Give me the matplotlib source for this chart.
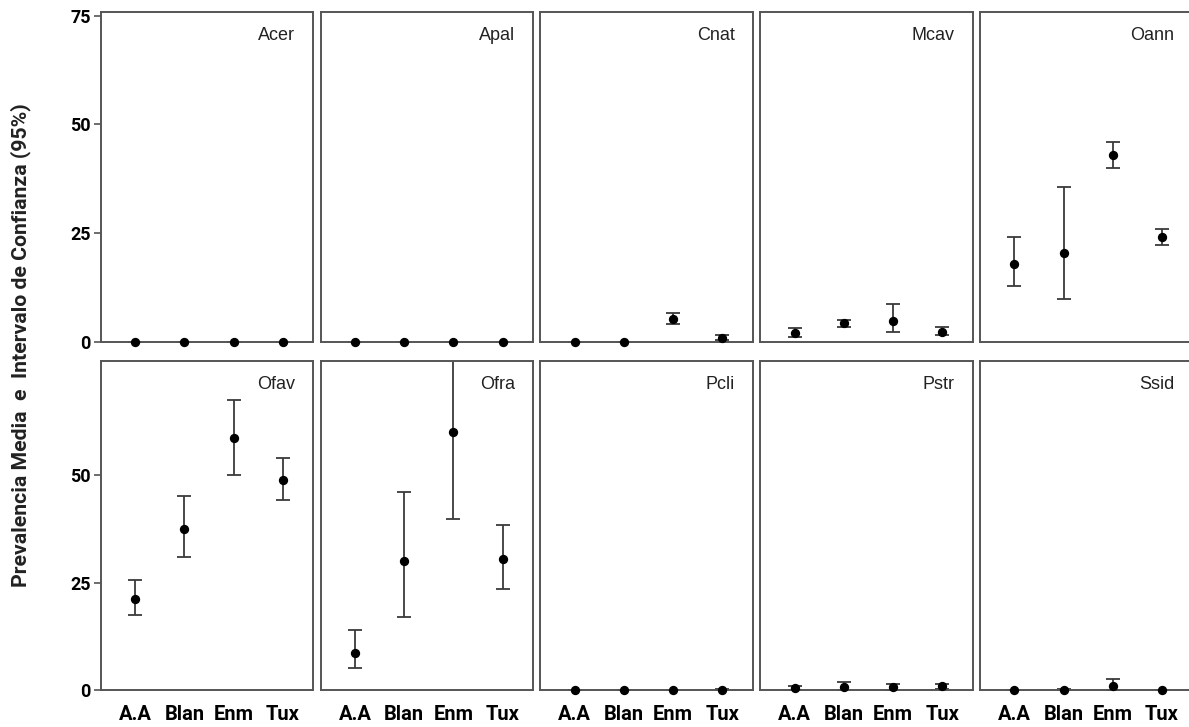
import matplotlib
matplotlib.use("Agg")
import matplotlib.pyplot as plt
import numpy as np

# Sites (x categories) and species panels
sites = ["A.A", "Blan", "Enm", "Tux"]
species = ["Acer", "Apal", "Cnat", "Mcav", "Oann",
           "Ofav", "Ofra", "Pcli", "Pstr", "Ssid"]

# Mean prevalence per site for each species
mean = {
    "Acer": [0.0, 0.0, 0.0, 0.0],
    "Apal": [0.0, 0.0, 0.0, 0.0],
    "Cnat": [0.0, 0.0, 5.2, 0.9],
    "Mcav": [1.9, 4.3, 4.8, 2.2],
    "Oann": [17.9, 20.5, 43.0, 24.0],
    "Ofav": [21.2, 37.5, 58.6, 48.8],
    "Ofra": [8.7, 30.1, 59.9, 30.4],
    "Pcli": [0.0, 0.0, 0.0, 0.1],
    "Pstr": [0.4, 0.8, 0.6, 0.9],
    "Ssid": [0.0, 0.1, 0.9, 0.0],
}
# Lower / upper 95% confidence limits
lower = {
    "Acer": [0.0, 0.0, 0.0, 0.0],
    "Apal": [0.0, 0.0, 0.0, 0.0],
    "Cnat": [0.0, 0.0, 4.1, 0.3],
    "Mcav": [1.0, 3.3, 2.2, 1.5],
    "Oann": [12.8, 9.8, 40.0, 22.2],
    "Ofav": [17.4, 30.9, 49.9, 44.1],
    "Ofra": [5.2, 17.0, 39.7, 23.4],
    "Pcli": [0.0, 0.0, 0.0, 0.0],
    "Pstr": [0.1, 0.1, 0.1, 0.3],
    "Ssid": [0.0, 0.0, 0.0, 0.0],
}
upper = {
    "Acer": [0.0, 0.0, 0.0, 0.0],
    "Apal": [0.0, 0.0, 0.0, 0.0],
    "Cnat": [0.0, 0.0, 6.5, 1.5],
    "Mcav": [3.1, 5.1, 8.7, 3.4],
    "Oann": [24.1, 35.6, 46.0, 25.9],
    "Ofav": [25.6, 45.2, 67.4, 54.0],
    "Ofra": [14.0, 46.1, 80.0, 38.4],
    "Pcli": [0.0, 0.0, 0.0, 0.2],
    "Pstr": [0.9, 1.9, 1.5, 1.5],
    "Ssid": [0.0, 0.2, 2.5, 0.0],
}

top_ticks = [0, 25, 50, 75]
bottom_ticks = [0, 25, 50]

W, H = 1189, 727
fig = plt.figure(figsize=(W / 100, H / 100), dpi=100)

left0, step, pw = 100.7, 219.8, 212.6
rows = [(12.3, 341.7, 75.76, top_ticks), (360.7, 690.0, 76.6, bottom_ticks)]

bold_fam = ["Roboto", "DejaVu Sans"]
ytick_font = dict(family=bold_fam, weight="bold", size=13)
xtick_font = dict(family=bold_fam, weight="bold", size=14.5)
x = np.arange(1, len(sites) + 1)

for idx, sp in enumerate(species):
    r, c = divmod(idx, 5)
    top, bot, ymax, ticks = rows[r]
    ax = fig.add_axes([(left0 + c * step) / W, 1 - bot / H, pw / W, (bot - top) / H])
    ax.set_xlim(0.3, 4.62)
    ax.set_ylim(0, ymax)
    m = np.array(mean[sp])
    lo = np.array(lower[sp])
    hi = np.array(upper[sp])
    yerr = np.vstack([m - lo, hi - m])
    ax.errorbar(x, m, yerr=yerr, fmt="none", ecolor="#3a3a3a",
                elinewidth=1.3, capsize=5.2, capthick=1.3)
    ax.plot(x, m, "o", color="black", markersize=5.7, clip_on=False, zorder=5)
    ax.text(0.915, 0.955, sp, transform=ax.transAxes, ha="right", va="top",
            fontsize=13, family=["Liberation Sans", "DejaVu Sans"], color="#222222")
    for s in ax.spines.values():
        s.set_color("#555555")
        s.set_linewidth(1.4)
    ax.set_facecolor("white")
    if c == 0:
        ax.set_yticks(ticks)
        ax.set_yticklabels([str(t) for t in ticks], fontdict=ytick_font)
        ax.tick_params(axis="y", length=5, width=1.2, color="#555555", pad=2)
    else:
        ax.set_yticks([])
    if r == 1:
        ax.set_xticks(x)
        ax.set_xticklabels(sites, fontdict=xtick_font)
        ax.tick_params(axis="x", length=0, pad=11)
    else:
        ax.set_xticks([])

fig.text(21 / W, 1 - 345 / H, "Prevalencia Media  e  Intervalo de Confianza (95%)",
         rotation=90, ha="center", va="center",
         family=bold_fam, weight="bold", size=15.3, color="#222222")

fig.savefig("out.png", dpi=100, facecolor="white")
